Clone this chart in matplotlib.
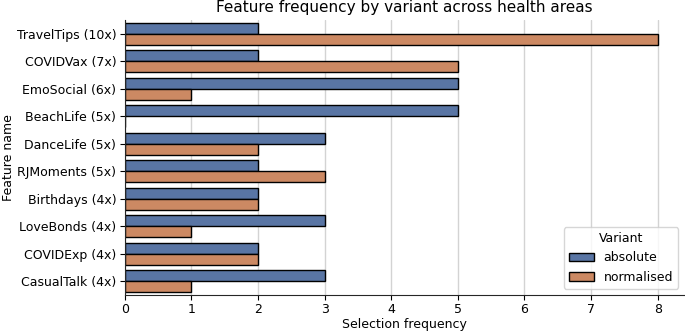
import pandas as pd
import numpy as np
import seaborn as sns
import matplotlib.pyplot as plt

features = ['TravelTips (10x)', 'COVIDVax (7x)', 'EmoSocial (6x)', 'BeachLife (5x)',
            'DanceLife (5x)', 'RJMoments (5x)', 'Birthdays (4x)', 'LoveBonds (4x)',
            'COVIDExp (4x)', 'CasualTalk (4x)']
absolute = [2, 2, 5, 5, 3, 2, 2, 3, 2, 3]
normalised = [8, 5, 1, 0, 2, 3, 2, 1, 2, 1]

df = pd.DataFrame({
    'Feature name': features * 2,
    'Selection frequency': absolute + normalised,
    'Variant': ['absolute'] * len(features) + ['normalised'] * len(features),
})

sns.set_style('ticks')
plt.rcParams['text.color'] = 'black'
plt.rcParams['axes.labelcolor'] = 'black'
plt.rcParams['xtick.color'] = 'black'
plt.rcParams['ytick.color'] = 'black'
fig, ax = plt.subplots(figsize=(6.85, 3.34), dpi=100)
sns.barplot(data=df, y='Feature name', x='Selection frequency', hue='Variant',
            palette='deep', saturation=0.75, edgecolor='black', linewidth=1.0, ax=ax)
ax.set_axisbelow(True)
ax.xaxis.grid(True, color='lightgray', linewidth=1.0)
ax.set_xlim(0, 8.4)
ax.set_xticks(range(0, 9))
ax.set_title('Feature frequency by variant across health areas', fontsize=11)
ax.set_xlabel('Selection frequency', fontsize=9, labelpad=1)
ax.set_ylabel('Feature name', fontsize=9, labelpad=1)
ax.tick_params(labelsize=9, pad=2.5)
sns.despine(ax=ax)
ax.legend(title='Variant', loc='lower right', fontsize=9, title_fontsize=9)
fig.subplots_adjust(left=0.182, right=0.999, bottom=0.117, top=0.94)
plt.savefig('out.png', dpi=100)
